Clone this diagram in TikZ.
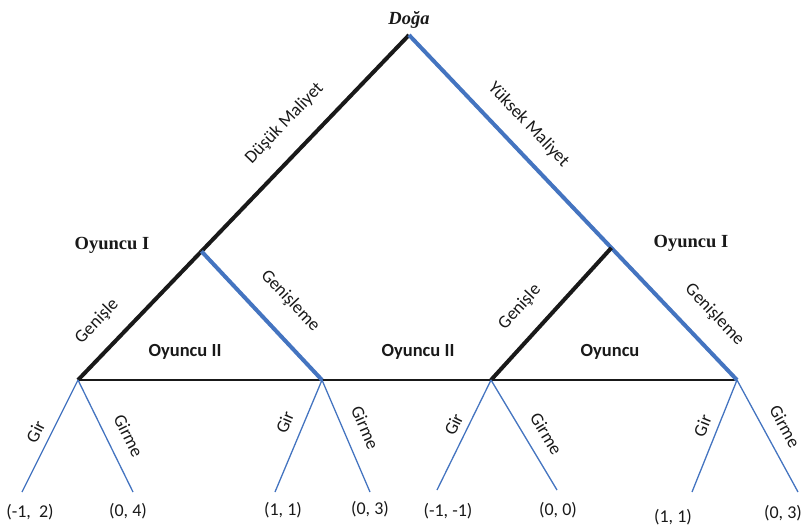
\documentclass[tikz,border=0pt]{standalone}
\usepackage{fontspec}
\setmainfont{Liberation Serif}
\setsansfont{Carlito}
\usetikzlibrary{positioning,calc}
\definecolor{branchblue}{RGB}{68,116,192}

\begin{document}
\begin{tikzpicture}[
    x=1pt, y=-1pt,
    every node/.style={align=center, inner sep=1pt, text=black!90},
    heavy/.style={line width=4pt, black!90},
    heavyblue/.style={line width=4pt, branchblue},
    infoset/.style={line width=1.4pt, black!90},
    leafline/.style={line width=1.3pt, branchblue},
    move/.style={font=\sffamily\fontsize{18}{20}\selectfont, sloped},
    player/.style={font=\rmfamily\bfseries\fontsize{18.5}{20}\selectfont},
    group/.style={font=\sffamily\bfseries\fontsize{18.5}{20}\selectfont},
    payoff/.style={font=\sffamily\fontsize{18}{20}\selectfont}
]
\useasboundingbox (0,0) rectangle (805,530);

% Decision points
\coordinate (root) at (409,35);
\coordinate (a) at (78,380);
\coordinate (b) at (322,380);
\coordinate (c) at (491,380);
\coordinate (d) at (737,380);
\coordinate (l) at ($(root)!0.627!(a)$);
\coordinate (r) at ($(root)!0.617!(d)$);

% End points
\coordinate (a1) at (22,492);
\coordinate (a2) at (133,492);
\coordinate (b1) at (275,492);
\coordinate (b2) at (370,492);
\coordinate (c1) at (437,490);
\coordinate (c2) at (557,490);
\coordinate (d1) at (692,492);
\coordinate (d2) at (798,492);

% Information set of player II
\draw[infoset] (a) -- (d);

% Nature's move
\draw[heavy] (root) -- (l)
    node[move, midway, above=18pt] {Düşük Maliyet};
\draw[heavyblue] (root) -- (d)
    node[move, pos=0.31, above=14pt] {Yüksek Maliyet}
    node[move, pos=0.868, above=18pt] {Genişleme};

% Player I moves
\draw[heavy] (l) -- (a)
    node[move, pos=0.69, above=16pt] {Genişle};
\draw[heavyblue] (l) -- (b)
    node[move, pos=0.55, above=20pt] {Genişleme};
\draw[heavy] (r) -- (c)
    node[move, pos=0.59, above=17pt] {Genişle};

% Entry moves
\draw[leafline] (a) -- (a1) node[move, pos=0.52, above=7pt] {Gir};
\draw[leafline] (a) -- (a2) node[move, pos=0.58, above=13pt] {Girme};
\draw[leafline] (b) -- (b1) node[move, pos=0.44, above=10pt] {Gir};
\draw[leafline] (b) -- (b2) node[move, pos=0.50, above=13pt] {Girme};
\draw[leafline] (c) -- (c1) node[move, pos=0.46, above=6pt] {Gir};
\draw[leafline] (c) -- (c2) node[move, pos=0.58, above=12pt] {Girme};
\draw[leafline] (d) -- (d1) node[move, pos=0.46, above=7pt] {Gir};
\draw[leafline] (d) -- (d2) node[move, pos=0.50, above=12pt] {Girme};

% Players
\node[player, font=\rmfamily\bfseries\itshape\fontsize{18.5}{20}\selectfont, above=5pt of root] (nature) {Doğa};
\node[player] (p1left) at (112,245) {Oyuncu I};
\node[player] (p1right) at (691,243) {Oyuncu I};
\node[group] (p2a) at (185,352) {Oyuncu II};
\node[group] (p2b) at (418,352) {Oyuncu II};
\node[group] (p2c) at (610,352) {Oyuncu};

% Payoffs
\node[payoff] (pa1) at (30,512.5) {(-1,~ 2)};
\node[payoff] (pa2) at (128,511) {(0, 4)};
\node[payoff] (pb1) at (283,510) {(1, 1)};
\node[payoff] (pb2) at (370,509) {(0, 3)};
\node[payoff] (pc1) at (448,511.5) {(-1, -1)};
\node[payoff] (pc2) at (558,510) {(0, 0)};
\node[payoff] (pd1) at (673,517.5) {(1, 1)};
\node[payoff] (pd2) at (783,513) {(0, 3)};

\end{tikzpicture}
\end{document}
